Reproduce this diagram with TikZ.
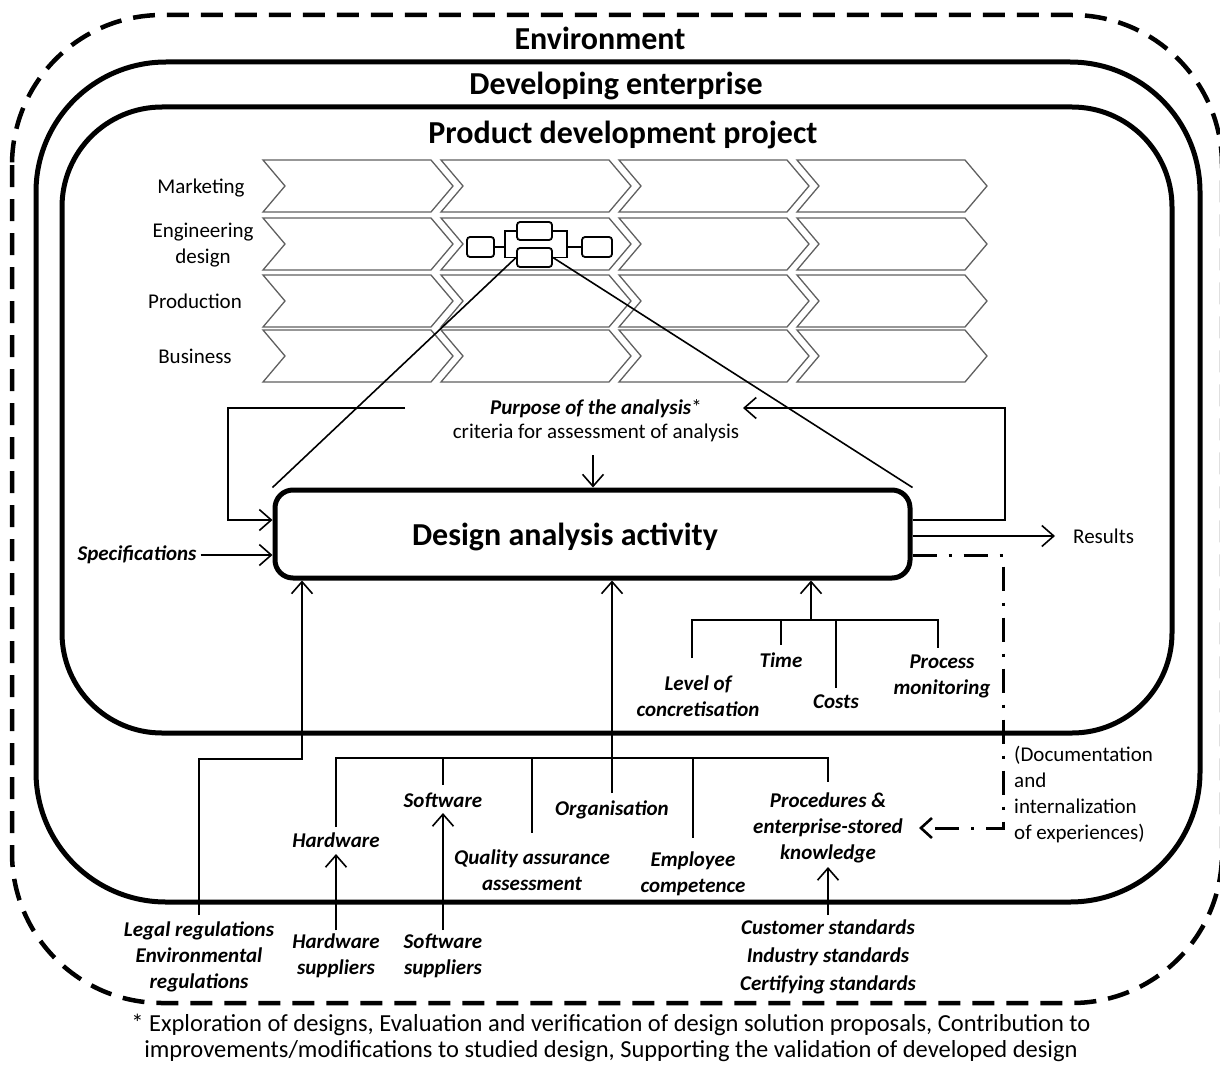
\documentclass[tikz,border=0pt]{standalone}
\usepackage{fontspec}
\setmainfont{Carlito}
\usetikzlibrary{arrows.meta}
\newcommand\fsS{\fontsize{21}{26}\selectfont}
\newcommand\fsH{\fontsize{32}{38}\selectfont}
\begin{document}
\begin{tikzpicture}[x=1pt,y=-1pt,
  lab/.style={font=\fsS\bfseries\itshape, align=center, inner sep=1pt},
  txt/.style={font=\fsS, align=center, inner sep=1pt},
  hdr/.style={font=\fsH\bfseries, inner sep=0pt, anchor=base},
  con/.style={line width=1.6pt},
  arr/.style={con, -{Straight Barb[length=12pt,width=21pt,line width=1.6pt]}},
  dd/.style={line width=3pt, dash pattern=on 24pt off 12pt on 3pt off 12pt,
     -{Straight Barb[length=11pt,width=20pt,line width=2.6pt]}},
  chev/.style={draw=gray!75!black, line width=1.3pt, line join=miter},
  mini/.style={draw, line width=1.8pt, rounded corners=3pt, inner sep=0pt},
  minic/.style={line width=1.8pt},
  frame/.style={line width=5pt},
  dabox/.style={draw, line width=5pt, rounded corners=18pt, inner sep=0pt,
     minimum width=635pt, minimum height=88pt}
]
\useasboundingbox (0,0) rectangle (1220,1070);
\fill[white] (0,0) rectangle (1220,1070);

% frames
\draw[line width=4.5pt, dash pattern=on 22pt off 12pt, rounded corners=150pt]
  (12,15) rectangle (1222,1003);
\draw[frame, rounded corners=130pt] (36,62) rectangle (1200,902);
\draw[frame, rounded corners=100pt] (62,107) rectangle (1172,733);

\node[hdr] (env) at (600,50) {Environment};
\node[hdr] (ent) at (616,95) {Developing enterprise};
\node[hdr] (pdp) at (623,143) {Product development project};

% chevron grid
\foreach \c in {0,1,2,3}{
  \foreach \t/\b in {160/212,218/270,275/327,330/382}{
    \pgfmathsetmacro\L{263+178*\c}
    \draw[chev] (\L,\t) -- (\L+168,\t) -- (\L+190,{(\t+\b)/2}) -- (\L+168,\b)
       -- (\L,\b) -- (\L+22,{(\t+\b)/2}) -- cycle;
  }
}
\node[txt] (mk) at (201,188) {Marketing};
\node[txt] (eng) at (203,245) {Engineering\\design};
\node[txt] (prod) at (195,301) {Production};
\node[txt] (bus) at (195,356) {Business};

% mini process
\node[mini, minimum width=27pt, minimum height=20pt] (m1) at (480.5,247) {};
\node[mini, minimum width=35pt, minimum height=18pt] (m2) at (534.5,231) {};
\node[mini, minimum width=35pt, minimum height=19pt] (m3) at (534.5,257.5) {};
\node[mini, minimum width=30pt, minimum height=20pt] (m4) at (597,247) {};
\coordinate (bl) at (505,247);
\coordinate (br) at (567,247);
\draw[minic] (m1.east) -- (bl);
\draw[minic] (m2.west) -| (bl |- m3.west) -- (m3.west);
\draw[minic] (m2.east) -| (br |- m3.east) -- (m3.east);
\draw[minic] (br) -- (m4.west);

% design analysis activity
\node[dabox] (DA) at (592.5,534) {};
\node[font=\fsH\bfseries, inner sep=0pt] (DAt) at (565,537) {Design analysis activity};
\draw[con] (m3.west) -- (DA.north west);
\draw[con] (m3.east) -- (DA.north east);

% purpose
\node[lab] (purp) at (596,409) {Purpose of the analysis\textnormal{*}};
\node[txt] (crit) at (596,433) {criteria for assessment of analysis};
\draw[arr] (593,455) -- (DA.north -| 593,0);
\coordinate (lp) at (405,408);
\coordinate (rp) at (743,408);
\draw[arr] (lp) -| (228,520) -- (DA.west |- 0,520);
\draw[arr] (DA.east |- 0,520) -| (1005,408) -- (rp);

% specifications and results
\node[lab] (spec) at (137,555) {Specifications};
\draw[arr] ([xshift=3pt]spec.east) -- (DA.west |- spec.east);
\node[txt, anchor=west] (res) at (1072,536) {Results};
\draw[arr] (DA.east |- res.west) -- ([xshift=-17pt]res.west);

% project-level resources
\node[lab] (time) at (781,660) {Time};
\node[lab] (lvl) at (698,696) {Level of\\concretisation};
\node[lab] (cost) at (836,702) {Costs};
\node[lab] (pm) at (942,676) {Process\\monitoring};
\coordinate (tj) at (811,620);
\draw[con] (692,658) -- (692,620) -- (938,620) -- (938,648);
\draw[con] (781,620) -- (781,645);
\draw[con] (836,620) -- (836,688);
\draw[arr] (tj) -- (DA.south -| tj);

% enterprise-level resources
\node[lab] (hw) at (336,840) {Hardware};
\node[lab] (sw) at (443,800) {Software};
\node[lab] (qa) at (532,870) {Quality assurance\\assessment};
\node[lab] (org) at (612,810) {Organisation};
\node[lab] (emp) at (693,874) {Employee\\competence};
\node[lab] (proc) at (828,828) {Procedures \&\\enterprise-stored\\knowledge};
\draw[con] (336,827) -- (336,758) -- (828,758) -- (828,782);
\draw[con] (443,758) -- (443,785);
\draw[con] (532,758) -- (532,833);
\draw[con] (693,758) -- (693,838);
\draw[arr] (612,793) -- (DA.south -| 612,0);

% environment-level
\node[lab] (legal) at (199,957) {Legal regulations\\Environmental\\regulations};
\draw[arr] (199,915) |- (302,759) -- (DA.south -| 302,0);
\node[lab] (hws) at (336,956) {Hardware\\suppliers};
\node[lab] (sws) at (443,956) {Software\\suppliers};
\draw[arr] (336,930) -- (336,854);
\draw[arr] (443,930) -- (443,813);
\node[lab, font=\fontsize{21}{28}\selectfont\bfseries\itshape] (std) at (828,957)
  {Customer standards\\Industry standards\\Certifying standards};
\draw[arr] (828,915) -- (828,867);

% documentation feedback
\node[txt, align=left, anchor=west] (doc) at (1013,795)
  {(Documentation\\and\\internalization\\of experiences)};
\coordinate (ddc) at (1003,828);
\draw[dd] (DA.east |- 0,555) -| (ddc) -- ([xshift=15pt]proc.east |- ddc);

% footnote
\node[txt, font=\fontsize{24.5}{26.5}\selectfont] (fn) at (611,1038) {* Exploration of designs, Evaluation and verification of design solution proposals, Contribution to\\improvements/modifications to studied design, Supporting the validation of developed design};
\end{tikzpicture}
\end{document}
